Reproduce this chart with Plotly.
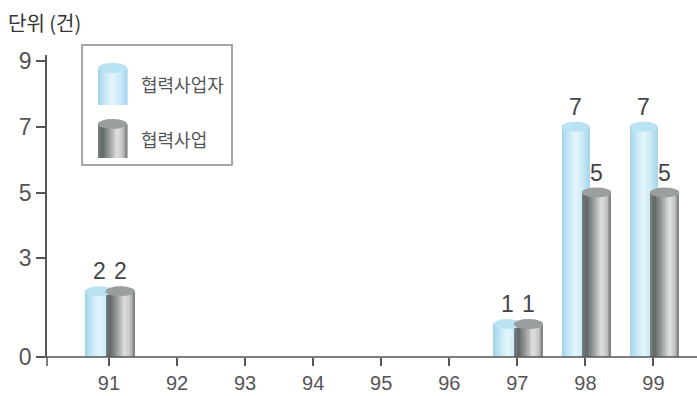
import plotly.graph_objects as go

# Data
years = [91, 92, 93, 94, 95, 96, 97, 98, 99]
partners = [2, 0, 0, 0, 0, 0, 1, 7, 7]      # 협력사업자
projects = [2, 0, 0, 0, 0, 0, 1, 5, 5]      # 협력사업
series_names = ["협력사업자", "협력사업"]
y_ticks = [0, 3, 5, 7, 9]

# Layout geometry (pixels)
W, H = 697, 396
ML, MR, MT, MB = 47, 0, 55, 39
PW, PH = W - ML - MR, H - MT - MB

NUM_FONT = "Liberation Sans Narrow, Liberation Sans, Arial"
KR_FONT = "Noto Sans CJK KR"

def px(x):
    return (x - ML) / PW

def py(y):
    return (H - MB - y) / PH

def hex2rgb(h):
    h = h.lstrip("#")
    return tuple(int(h[i:i + 2], 16) for i in (0, 2, 4))

def gradient(stops, n):
    out = []
    for k in range(n):
        t = (k + 0.5) / n
        for (t0, c0), (t1, c1) in zip(stops, stops[1:]):
            if t0 <= t <= t1:
                f = (t - t0) / (t1 - t0)
                a, b = hex2rgb(c0), hex2rgb(c1)
                rgb = tuple(round(a[i] + (b[i] - a[i]) * f) for i in range(3))
                out.append("rgb(%d,%d,%d)" % rgb)
                break
    return out

N = 20
blue_cols = gradient([(0, "#a3d3e8"), (0.2, "#bfe5f4"), (0.5, "#e6f6fc"),
                      (0.75, "#cbeaf6"), (1, "#a5d5ea")], N)
gray_cols = gradient([(0, "#7d8282"), (0.15, "#5f6565"), (0.4, "#9a9e9e"),
                      (0.65, "#e0e0e0"), (0.85, "#c4c4c4"), (1, "#767a7a")], N)
cap_cols = ["#b9e3f3", "#9a9e9e"]

# (values, offset, width, body colours, cap colour)
series = [
    (partners, -0.35, 0.41, blue_cols, cap_cols[0]),
    (projects, -0.05, 0.43, gray_cols, cap_cols[1]),
]

fig = go.Figure()
shapes = []
annotations = []

for vals, off, wid, cols, cap in series:
    sw = wid / N
    for k in range(N):
        # strips overlap their right neighbour so no seams show
        w_k = sw * (2.0 if k < N - 1 else 1.0)
        fig.add_trace(go.Bar(
            x=years, y=vals, width=w_k, offset=off + k * sw,
            marker=dict(color=cols[k], line=dict(width=0)),
            showlegend=False, hoverinfo="skip",
        ))
    for yr, v in zip(years, vals):
        if v <= 0:
            continue
        # cylinder top
        shapes.append(dict(
            type="circle", xref="x", yref="y", ysizemode="pixel", yanchor=v,
            x0=yr + off, x1=yr + off + wid, y0=-5, y1=5,
            fillcolor=cap, line=dict(width=0), layer="above",
        ))
        annotations.append(dict(
            x=yr + off + wid / 2, y=v, xref="x", yref="y",
            text=str(v), showarrow=False, yanchor="bottom", yshift=5,
            font=dict(family=NUM_FONT, size=23, color="#444"),
        ))

# axis line extensions beyond the crossing point
shapes.append(dict(type="line", xref="paper", yref="paper",
                   x0=px(40), x1=1, y0=0, y1=0,
                   line=dict(color="#555", width=1.5)))
shapes.append(dict(type="line", xref="paper", yref="paper",
                   x0=0, x1=0, y0=py(366), y1=0,
                   line=dict(color="#555", width=1.5)))

# legend frame
shapes.append(dict(type="rect", xref="paper", yref="paper",
                   x0=px(82), x1=px(232), y0=py(165), y1=py(45),
                   line=dict(color="#8a8a8a", width=1.5), fillcolor="white",
                   layer="above"))

def legend_icon(x0, x1, ytop, ybot, cols, cap):
    sw = (x1 - x0) / N
    for k in range(N):
        shapes.append(dict(type="rect", xref="paper", yref="paper",
                           x0=px(x0 + k * sw), x1=px(x0 + (k + 1) * sw + 0.6),
                           y0=py(ybot), y1=py(ytop + 5),
                           fillcolor=cols[k], line=dict(width=0), layer="above"))
    shapes.append(dict(type="circle", xref="paper", yref="paper",
                       x0=px(x0), x1=px(x1), y0=py(ytop + 10), y1=py(ytop),
                       fillcolor=cap, line=dict(width=0), layer="above"))

legend_icon(98, 127, 63, 105, blue_cols, cap_cols[0])
legend_icon(98, 127, 119, 158, gray_cols, cap_cols[1])

for name, yy in zip(series_names, [84, 139]):
    annotations.append(dict(
        x=px(139), y=py(yy), xref="paper", yref="paper", text=name,
        showarrow=False, xanchor="left", yanchor="middle",
        font=dict(family=KR_FONT, size=18, color="#555"),
    ))

annotations.append(dict(
    x=px(6), y=py(22), xref="paper", yref="paper", text="단위 (건)",
    showarrow=False, xanchor="left", yanchor="middle",
    font=dict(family=KR_FONT, size=20, color="#333"),
))

fig.update_layout(
    width=W, height=H,
    margin=dict(l=ML, r=MR, t=MT, b=MB),
    paper_bgcolor="white", plot_bgcolor="white",
    barmode="overlay", bargap=0,
    shapes=shapes, annotations=annotations,
    xaxis=dict(
        range=[90.09, 99.64], tickvals=years, ticktext=[str(y) for y in years],
        showgrid=False, zeroline=False, showline=False, automargin=False,
        ticks="outside", ticklen=8, tickwidth=1.5, tickcolor="#555",
        tickfont=dict(family=NUM_FONT, size=20, color="#555"),
    ),
    yaxis=dict(
        range=[0, 9 * PH / 296], tickvals=y_ticks, automargin=False,
        showgrid=False, zeroline=False,
        showline=True, linecolor="#555", linewidth=1.5,
        ticks="outside", ticklen=9, tickwidth=1.5, tickcolor="#555",
        tickfont=dict(family=NUM_FONT, size=23, color="#555"),
    ),
    font=dict(family="Liberation Sans"),
)

fig.write_html("out.html")
